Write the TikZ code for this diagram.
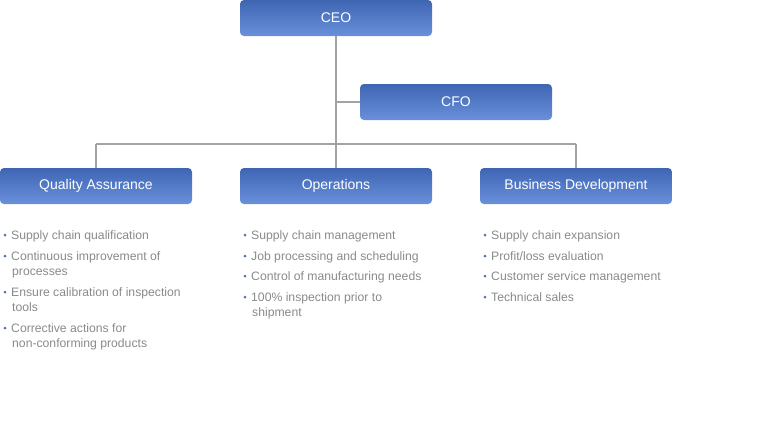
\documentclass[tikz,border=0pt]{standalone}
\usepackage{fontspec}
\setmainfont{Liberation Sans}
\definecolor{boxtop}{HTML}{3F66B3}
\definecolor{boxbot}{HTML}{6A90DB}
\definecolor{linegray}{HTML}{A3A3A3}
\definecolor{txtgray}{HTML}{8A8A8A}
\definecolor{dotblue}{HTML}{4A72C0}
\tikzset{
  orgbox/.style={rounded corners=4pt, top color=boxtop, bottom color=boxbot,
    minimum width=192pt, minimum height=36pt, inner sep=0pt,
    text=white, font=\fontsize{14}{16}\selectfont},
  conn/.style={draw=linegray, line width=2pt},
  itemtxt/.style={anchor=base west, inner sep=0pt, text=txtgray,
    font=\fontsize{12.2}{14}\selectfont},
  bdot/.style={circle, fill=dotblue, inner sep=0pt, minimum size=3pt}
}
\newcommand{\bulletline}[4]{% name, x, baseline y, text
  \node[bdot] (#1d) at (#2-6,#3-4) {};
  \node[itemtxt] (#1) at (#2,#3) {#4};}
\newcommand{\contline}[4]{%
  \node[itemtxt] (#1) at (#2,#3) {#4};}
\begin{document}
\begin{tikzpicture}[x=1pt,y=-1pt]
\useasboundingbox (0,0) rectangle (760,432);
\node[orgbox] (ceo) at (336,18) {CEO};
\node[orgbox] (cfo) at (456,102) {CFO};
\node[orgbox] (qa) at (96,186) {Quality Assurance};
\node[orgbox] (ops) at (336,186) {Operations};
\node[orgbox] (bd) at (576,186) {Business Development};
\coordinate (hub) at (336,144);
\coordinate (cfoj) at (336,102);
\coordinate (hl) at (96,144);
\coordinate (hr) at (576,144);
\draw[conn] (ceo.south) -- (hub);
\draw[conn] (cfoj) -- (cfo.west);
\draw[conn] (hl) -- (hr);
\draw[conn] (hl) -- (qa.north);
\draw[conn] (hub) -- (ops.north);
\draw[conn] (hr) -- (bd.north);
% Quality Assurance
\bulletline{qa1}{11}{239}{Supply chain qualification}
\bulletline{qa2}{11}{260}{Continuous improvement of}
\contline{qa2b}{12}{275.5}{processes}
\bulletline{qa3}{11}{296}{Ensure calibration of inspection}
\contline{qa3b}{12}{311.5}{tools}
\bulletline{qa4}{11}{332}{Corrective actions for}
\contline{qa4b}{12}{347.5}{non-conforming products}
% Operations
\bulletline{op1}{251}{239}{Supply chain management}
\bulletline{op2}{251}{260}{Job processing and scheduling}
\bulletline{op3}{251}{280}{Control of manufacturing needs}
\bulletline{op4}{251}{301}{100\% inspection prior to}
\contline{op4b}{252}{316.5}{shipment}
% Business Development
\bulletline{bd1}{491}{239}{Supply chain expansion}
\bulletline{bd2}{491}{260}{Profit/loss evaluation}
\bulletline{bd3}{491}{280}{Customer service management}
\bulletline{bd4}{491}{301}{Technical sales}
\end{tikzpicture}
\end{document}
